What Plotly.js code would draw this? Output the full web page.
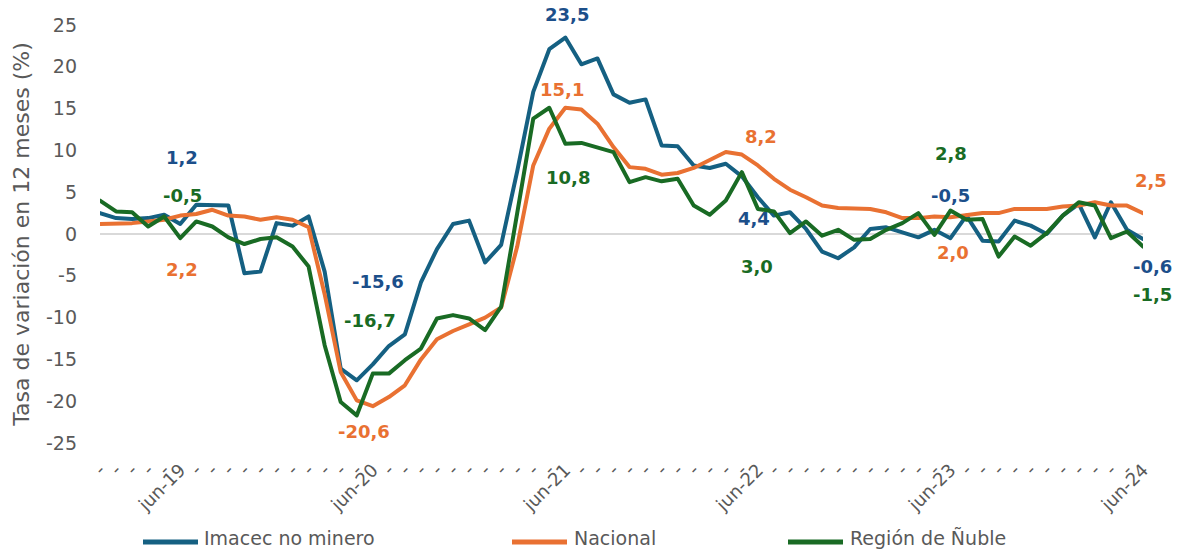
<!DOCTYPE html>
<html>
<head>
<meta charset="utf-8">
<script src="https://cdn.plot.ly/plotly-3.0.1.min.js"></script>
<style>
html,body{margin:0;padding:0;background:#fff;}
#chart{width:1183px;height:552px;}
.scatterlayer .js-line{stroke-linejoin:round;stroke-linecap:round;}
</style>
</head>
<body>
<div id="chart"></div>
<script>
// Months Jan-2019 .. Jun-2024
const monthNames = ['ene','feb','mar','abr','may','jun','jul','ago','sep','oct','nov','dic'];
const years = ['19','20','21','22','23','24'];
const categories = [];
years.forEach(y => monthNames.forEach(m => { if (categories.length < 66) categories.push(m + '-' + y); }));
const tickLabels = categories.map(c => c.startsWith('jun') ? c : '-');

const imacecNoMinero = [2.5, 1.9, 1.8, 1.9, 2.3, 1.2, 3.5, 3.4, 3.4, -4.7, -4.5, 1.3, 1.0, 2.1,
  -4.5, -16.1, -17.5, -15.6, -13.4, -12.0, -5.8, -1.8, 1.2, 1.6, -3.4, -1.3,
  7.5, 17.0, 22.1, 23.5, 20.3, 21.0, 16.7, 15.7, 16.1, 10.6, 10.5, 8.2, 7.9, 8.4, 6.9, 4.4,
  2.2, 2.6, 0.6, -2.1, -2.9, -1.6, 0.6, 0.8, 0.2, -0.4, 0.5, -0.5, 2.2, -0.8, -0.9,
  1.6, 1.0, 0.0, 2.2, 3.6, -0.4, 3.8, 0.5, -0.6];
const nacional = [1.2, 1.2, 1.3, 1.5, 1.7, 2.2, 2.4, 2.9, 2.2, 2.1, 1.7, 2.0, 1.7, 0.8,
  -7.2, -16.5, -19.9, -20.6, -19.5, -18.1, -15.0, -12.6, -11.6, -10.8, -10.0, -8.8,
  -1.5, 8.2, 12.6, 15.1, 14.9, 13.2, 10.4, 8.0, 7.8, 7.1, 7.3, 7.9, 8.8, 9.8, 9.5, 8.2,
  6.6, 5.3, 4.4, 3.4, 3.1, 3.1, 3.0, 2.6, 1.9, 1.9, 2.1, 2.0, 2.2, 2.5, 2.5,
  3.0, 3.0, 3.0, 3.3, 3.4, 3.8, 3.4, 3.4, 2.5];
const regionNuble = [4.0, 2.7, 2.6, 0.9, 2.1, -0.5, 1.5, 0.9, -0.4, -1.2, -0.6, -0.4, -1.5, -3.9,
  -13.3, -20.1, -21.7, -16.7, -16.7, -15.1, -13.7, -10.1, -9.7, -10.1, -11.5, -8.7,
  2.5, 13.8, 15.1, 10.8, 10.9, 10.4, 9.8, 6.2, 6.8, 6.3, 6.6, 3.4, 2.3, 4.0, 7.4, 3.0,
  2.7, 0.1, 1.5, -0.2, 0.5, -0.7, -0.6, 0.5, 1.3, 2.5, -0.1, 2.8, 1.7, 1.8, -2.7,
  -0.3, -1.4, 0.1, 2.2, 3.8, 3.4, -0.5, 0.3, -1.5];

const seriesNames = ['Imacec no minero', 'Nacional', 'Región de Ñuble'];
const lineColors = ['#156082', '#E97132', '#196B24'];
const labelColors = ['#1C4F8A', '#E97132', '#196B24'];
const yTicks = [25, 20, 15, 10, 5, 0, -5, -10, -15, -20, -25];

const W = 1183, H = 552;
const M = {l: 100, r: 40, t: 25, b: 109};
const PW = W - M.l - M.r, PH = H - M.t - M.b;
const px = p => (p - M.l) / PW;
const py = p => (H - M.b - p) / PH;

const allSeries = [imacecNoMinero, nacional, regionNuble];
const traces = allSeries.map((s, k) => ({
  x: categories, y: s, type: 'scatter', mode: 'lines', name: seriesNames[k],
  line: {color: lineColors[k], width: 4}, showlegend: false, hoverinfo: 'skip'
}));

// data labels: [text, series index, pixel x, pixel y]
const dataLabels = [
  ['1,2', 0, 182, 157], ['-0,5', 2, 182, 195], ['2,2', 1, 182, 269],
  ['-15,6', 0, 378, 281], ['-16,7', 2, 370, 320], ['-20,6', 1, 364, 431],
  ['23,5', 0, 567, 15], ['15,1', 1, 562, 89], ['10,8', 2, 568, 177],
  ['8,2', 1, 761, 136], ['4,4', 0, 754, 218], ['3,0', 2, 757, 266],
  ['2,8', 2, 951, 153], ['-0,5', 0, 950, 195], ['2,0', 1, 953, 252],
  ['2,5', 1, 1151, 180], ['-0,6', 0, 1152, 266], ['-1,5', 2, 1152, 295]
];
const annotations = dataLabels.map(d => ({
  text: d[0], xref: 'paper', yref: 'paper', x: px(d[2]), y: py(d[3]),
  xanchor: 'center', yanchor: 'middle', showarrow: false,
  font: {family: 'DejaVu Sans', size: 18, weight: 'bold', color: labelColors[d[1]]}
}));

// legend
const legendPos = [[143, 198, 202], [512, 567, 572], [788, 843, 848]];
const shapes = [];
legendPos.forEach((p, k) => {
  shapes.push({type: 'line', xref: 'paper', yref: 'paper', x0: px(p[0]), x1: px(p[1]),
    y0: py(542), y1: py(542), line: {color: lineColors[k], width: 5}});
  annotations.push({text: seriesNames[k], xref: 'paper', yref: 'paper', x: px(p[2]), y: py(538),
    xanchor: 'left', yanchor: 'middle', showarrow: false,
    font: {family: 'DejaVu Sans', size: 19, color: '#595959'}});
});

const layout = {
  width: W, height: H, margin: M, paper_bgcolor: '#fff', plot_bgcolor: '#fff',
  showlegend: false,
  xaxis: {
    type: 'category', range: [0, 65], tickmode: 'array', tickvals: categories, ticktext: tickLabels,
    tickangle: -45, showgrid: false, zeroline: false, showline: false, ticks: '',
    tickfont: {family: 'DejaVu Sans', size: 18, color: '#595959'}, ticklabelstandoff: 12
  },
  yaxis: {
    range: [-25, 25], tickmode: 'array', tickvals: yTicks, ticktext: yTicks.map(String),
    showgrid: false, zeroline: true, zerolinecolor: '#D9D9D9', zerolinewidth: 1.5,
    showline: false, ticks: '', ticklabelstandoff: 22,
    tickfont: {family: 'DejaVu Sans', size: 19, color: '#595959'},
    title: {text: 'Tasa de variación en 12 meses (%)', standoff: 10,
      font: {family: 'DejaVu Sans', size: 22, color: '#595959'}}
  },
  annotations: annotations, shapes: shapes
};
Plotly.newPlot('chart', traces, layout, {displayModeBar: false, staticPlot: true});
</script>
</body>
</html>
